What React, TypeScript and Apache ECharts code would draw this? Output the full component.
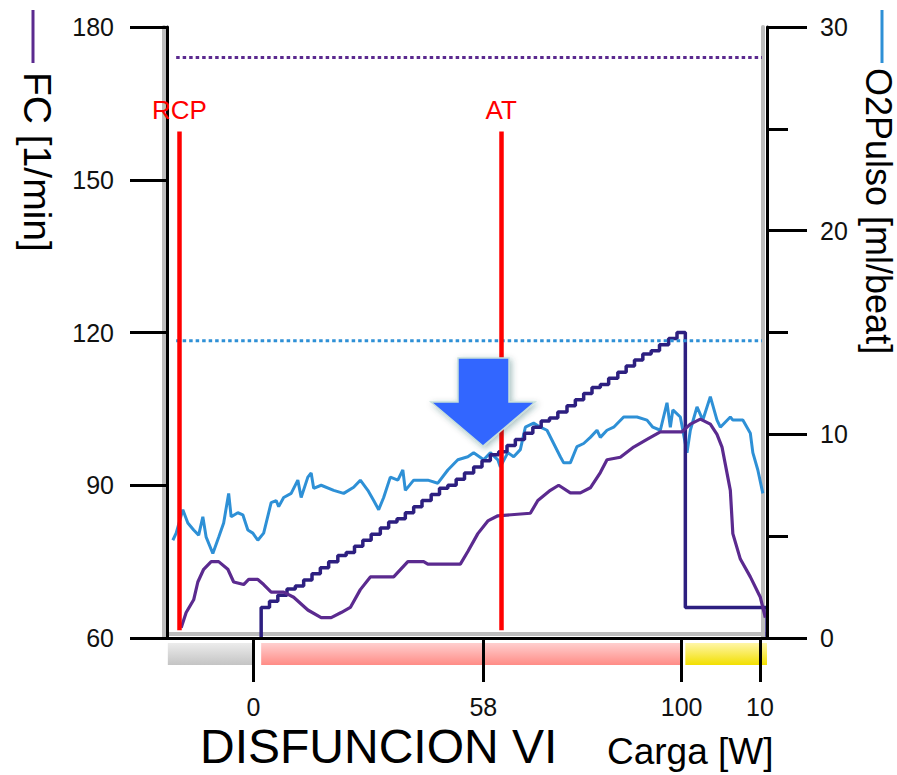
import React, { useEffect, useRef } from "react";
import * as echarts from "echarts";

const FONT = '"Liberation Sans", Arial, Helvetica, sans-serif';

// Heart rate (FC) trace: time [s] and beats per minute
const fcTime = [17, 23, 32, 37, 44, 53, 62, 73, 80, 92, 98, 109, 116, 125, 140, 152, 169, 185, 197, 209, 220, 232, 244, 272, 289, 308, 313, 352, 361, 373, 385, 397, 436, 445, 460, 470, 484, 496, 508, 520, 528, 544, 560, 576, 592, 618, 628, 640, 652, 660, 666, 676, 679, 688, 700, 712, 718];
const fcValues = [62, 65, 67.5, 71, 73.5, 75, 75, 73.5, 71, 70.5, 71.5, 71.5, 70.5, 69, 69, 68, 65.5, 64, 64, 65, 66, 69.5, 72, 72, 75, 75, 74.5, 74.5, 77, 80.5, 83, 84, 84.5, 87, 89, 90, 88.5, 88.5, 89.5, 92.5, 95, 95.5, 97.5, 99, 100.5, 100.5, 102, 103, 102, 100, 97.5, 89, 80.5, 75.5, 72, 68, 64];

// O2 pulse trace: time [s] and ml/beat
const o2Time = [7, 11, 19, 25, 32, 38, 43, 47, 55, 62, 68, 74, 77, 85, 91, 97, 103, 109, 116, 125, 131, 134, 140, 149, 157, 161, 169, 173, 176, 185, 200, 212, 224, 232, 241, 248, 254, 260, 268, 277, 283, 286, 296, 313, 325, 337, 349, 361, 368, 380, 388, 397, 400, 409, 416, 424, 430, 440, 448, 456, 464, 472, 476, 484, 492, 500, 508, 516, 520, 528, 536, 548, 564, 576, 583, 592, 600, 604, 607, 616, 619, 624, 628, 636, 643, 652, 660, 664, 676, 679, 691, 700, 703, 709, 715];
const o2Values = [4.8, 5.15, 6.3, 5.65, 5.3, 5.05, 5.95, 4.95, 4.15, 4.95, 5.65, 7.1, 5.95, 6.15, 6.05, 5.3, 5.15, 4.8, 5.15, 6.65, 6.75, 6.45, 6.9, 7.1, 7.75, 6.9, 7.9, 8.1, 7.35, 7.5, 7.25, 7.1, 7.4, 7.75, 7.25, 6.75, 6.3, 6.9, 7.9, 7.75, 8.25, 7.25, 7.75, 7.75, 7.6, 8.25, 8.75, 8.9, 9.1, 8.75, 9.1, 8.75, 8.4, 9.1, 8.9, 9.25, 10.35, 10.55, 10.35, 10.2, 9.55, 8.9, 8.6, 8.6, 9.4, 9.55, 9.85, 10.2, 9.85, 10.2, 10.35, 10.85, 10.85, 10.7, 10.35, 10.2, 11.55, 10.35, 11.2, 10.85, 10.2, 9.1, 10.2, 11.35, 10.7, 11.85, 10.7, 10.35, 10.85, 10.7, 10.7, 10.05, 9.1, 8.25, 7.1];

// Ergometer load (step protocol): time [s] and watts
const loadTime = [113, 113, 123, 133, 144, 154, 164, 174, 184, 194, 205, 215, 225, 235, 245, 256, 266, 276, 286, 296, 306, 317, 327, 337, 347, 357, 368, 378, 388, 398, 408, 418, 429, 439, 449, 459, 469, 480, 490, 500, 510, 520, 530, 541, 551, 561, 571, 581, 591, 602, 612, 622, 720, 720];
const loadWatts = [0, 10, 12, 14, 16, 17, 19, 21, 23, 25, 27, 28, 30, 32, 34, 36, 38, 39, 41, 43, 45, 47, 49, 50, 52, 54, 56, 58, 60, 61, 63, 65, 67, 69, 71, 72, 74, 76, 78, 80, 82, 83, 85, 87, 89, 91, 93, 94, 96, 98, 100, 10, 10, 0];

// Load marks along the time axis
const loadTickTime = [103.6, 379.6, 617.6, 711.6];
const loadTickLabels = ["0", "58", "100", "10"];

// Test phases (rest, exercise, recovery): start / end time [s]
const phaseStart = [1, 113, 622];
const phaseEnd = [102, 619, 720];

// Ventilatory thresholds
const thresholdNames = ["RCP", "AT"];
const thresholdTime = [15, 401];
const thresholdFcRange = [61.5, 159.5];

// Predicted references
const fcPredictedMax = 174;
const o2PulsePredicted = 14.6;
const referenceSpan = [11, 714];

const C_FC = "#5b2a8f";
const C_O2 = "#2e90d6";
const C_LOAD = "#2d1f80";
const C_RED = "#ff0000";
const C_EDGE = "#bdbdbd";

const phaseColors = [
  ["#ececec", "#c4c4c4"],
  ["#ffcfcf", "#ff8c86"],
  ["#fff6a8", "#f2df00"],
];

export default function App() {
  const ref = useRef<HTMLDivElement>(null);

  useEffect(() => {
    if (!ref.current) return;
    const chart = echarts.init(ref.current, null, { renderer: "svg" });

    const gradients = phaseColors.map(
      ([a, b]) =>
        new echarts.graphic.LinearGradient(0, 0, 0, 1, [
          { offset: 0, color: a },
          { offset: 1, color: b },
        ])
    );

    const axisText = { fontSize: 25, color: "#111", fontFamily: FONT };
    const blackTick = { color: "#000", width: 3 };
    const blackLine = { show: true, onZero: false, lineStyle: { color: "#000", width: 3 } };
    const edgeLine = { show: true, onZero: false, lineStyle: { color: C_EDGE, width: 4 } };
    const bare = {
      axisTick: { show: false },
      axisLabel: { show: false },
      splitLine: { show: false },
    };

    const option: any = {
      animation: false,
      backgroundColor: "#ffffff",
      textStyle: { fontFamily: FONT },
      grid: [
        { left: 167, right: 130, top: 27, height: 611 },
        { left: 167, right: 130, top: 643, height: 22 },
      ],
      xAxis: [
        {
          gridIndex: 0,
          type: "value",
          min: 0,
          max: 720,
          z: 10,
          splitLine: { show: false },
          axisLine: blackLine,
          axisTick: { show: true, customValues: loadTickTime, length: 44, lineStyle: blackTick },
          axisLabel: {
            show: true,
            customValues: loadTickTime,
            margin: 56,
            ...axisText,
            formatter: (v: number) => {
              const i = loadTickTime.findIndex((t) => Math.abs(t - v) < 1e-6);
              return i >= 0 ? loadTickLabels[i] : "";
            },
          },
        },
        { gridIndex: 1, type: "value", min: 0, max: 720, show: false },
        // soft grey edge along the inside of the bottom frame
        { gridIndex: 0, type: "value", min: 0, max: 720, position: "bottom", offset: -4, z: 1, axisLine: edgeLine, ...bare },
      ],
      yAxis: [
        {
          gridIndex: 0,
          type: "value",
          position: "left",
          min: 60,
          max: 180,
          interval: 30,
          z: 5,
          splitLine: { show: false },
          axisLine: blackLine,
          axisTick: { show: true, length: 37, lineStyle: blackTick },
          axisLabel: { margin: 53, ...axisText },
        },
        {
          gridIndex: 0,
          type: "value",
          position: "right",
          min: 0,
          max: 30,
          interval: 10,
          z: 5,
          splitLine: { show: false },
          minorSplitLine: { show: false },
          axisLine: blackLine,
          axisTick: { show: true, length: 40, lineStyle: blackTick },
          minorTick: { show: true, splitNumber: 2, length: 21, lineStyle: blackTick },
          axisLabel: { margin: 53, ...axisText },
        },
        { gridIndex: 0, type: "value", min: 0, max: 200, show: false },
        { gridIndex: 1, type: "value", min: 0, max: 1, show: false },
        // grey edges beside the two vertical frame lines
        { gridIndex: 0, type: "value", position: "left", offset: 3, z: 1, axisLine: edgeLine, ...bare },
        { gridIndex: 0, type: "value", position: "right", offset: -4, z: 1, axisLine: edgeLine, ...bare },
      ],
      series: [
        {
          name: "Fases",
          type: "custom",
          xAxisIndex: 1,
          yAxisIndex: 3,
          silent: true,
          encode: { x: [0, 1] },
          data: phaseStart.map((s, i) => [s, phaseEnd[i], i]),
          renderItem: (_p: any, api: any) => {
            const a = api.coord([api.value(0), 1]);
            const b = api.coord([api.value(1), 0]);
            return {
              type: "rect",
              shape: { x: a[0], y: a[1], width: b[0] - a[0], height: b[1] - a[1] },
              style: { fill: gradients[api.value(2)] },
            };
          },
        },
        {
          name: "O2Pulso",
          type: "line",
          xAxisIndex: 0,
          yAxisIndex: 1,
          symbol: "none",
          lineStyle: { color: C_O2, width: 3 },
          data: o2Time.map((t, i) => [t, o2Values[i]]),
        },
        {
          name: "Carga",
          type: "line",
          xAxisIndex: 0,
          yAxisIndex: 2,
          symbol: "none",
          step: "end",
          lineStyle: { color: C_LOAD, width: 3.5 },
          data: loadTime.map((t, i) => [t, loadWatts[i]]),
        },
        {
          name: "FC",
          type: "line",
          xAxisIndex: 0,
          yAxisIndex: 0,
          symbol: "none",
          lineStyle: { color: C_FC, width: 3.2 },
          data: fcTime.map((t, i) => [t, fcValues[i]]),
        },
        {
          name: "FC max pred",
          type: "line",
          xAxisIndex: 0,
          yAxisIndex: 0,
          symbol: "none",
          lineStyle: { color: C_FC, width: 3, type: [3.5, 3] },
          data: referenceSpan.map((t) => [t, fcPredictedMax]),
        },
        {
          name: "O2Pulso pred",
          type: "line",
          xAxisIndex: 0,
          yAxisIndex: 1,
          symbol: "none",
          lineStyle: { color: C_O2, width: 3, type: [3.5, 3] },
          data: referenceSpan.map((t) => [t, o2PulsePredicted]),
        },
        {
          name: "Umbrales",
          type: "line",
          xAxisIndex: 0,
          yAxisIndex: 0,
          data: [],
          markLine: {
            silent: true,
            symbol: "none",
            lineStyle: { color: C_RED, width: 4.5, type: "solid" },
            label: {
              show: true,
              position: "end",
              distance: 8,
              formatter: "{b}",
              color: C_RED,
              fontSize: 26,
              fontFamily: FONT,
            },
            data: thresholdTime.map((t, i) => [
              { coord: [t, thresholdFcRange[0]], name: thresholdNames[i] },
              { coord: [t, thresholdFcRange[1]] },
            ]),
          },
        },
      ],
      graphic: [
        // series key swatches next to the axis titles
        { type: "line", shape: { x1: 33, y1: 10, x2: 33, y2: 63 }, style: { stroke: C_FC, lineWidth: 3 } },
        { type: "line", shape: { x1: 882, y1: 10, x2: 882, y2: 63 }, style: { stroke: C_O2, lineWidth: 3 } },
        {
          type: "text",
          x: 37,
          y: 72,
          rotation: -Math.PI / 2,
          style: {
            text: "FC [1/min]",
            fontSize: 39,
            fontFamily: FONT,
            fill: "#000",
            align: "left",
            verticalAlign: "middle",
            textAlign: "left",
            textVerticalAlign: "middle",
          },
        },
        {
          type: "text",
          x: 878,
          y: 68,
          rotation: -Math.PI / 2,
          style: {
            text: "O2Pulso [ml/beat]",
            fontSize: 36,
            fontFamily: FONT,
            fill: "#000",
            align: "left",
            verticalAlign: "middle",
            textAlign: "left",
            textVerticalAlign: "middle",
          },
        },
        {
          type: "text",
          x: 200,
          y: 746,
          style: {
            text: "DISFUNCION VI",
            fontSize: 48,
            fontFamily: FONT,
            fill: "#000",
            align: "left",
            verticalAlign: "middle",
            textAlign: "left",
            textVerticalAlign: "middle",
          },
        },
        {
          type: "text",
          x: 607,
          y: 751,
          style: {
            text: "Carga [W]",
            fontSize: 37,
            fontFamily: FONT,
            fill: "#000",
            align: "left",
            verticalAlign: "middle",
            textAlign: "left",
            textVerticalAlign: "middle",
          },
        },
        // highlight arrow pointing at the AT crossing
        {
          type: "polygon",
          z: 100,
          shape: {
            points: [
              [458, 358],
              [509, 358],
              [509, 402],
              [535, 402],
              [483, 446],
              [431, 402],
              [458, 402],
            ],
          },
          style: {
            fill: "#3366ff",
            stroke: "#c6e0dc",
            lineWidth: 1.5,
            shadowBlur: 6,
            shadowColor: "rgba(0,70,70,0.35)",
            shadowOffsetX: 2,
            shadowOffsetY: 2,
          },
        },
      ],
    };

    chart.setOption(option);
    return () => chart.dispose();
  }, []);

  return (
    <div
      ref={ref}
      style={{ position: "fixed", left: 0, top: 0, width: 897, height: 775, background: "#fff" }}
    />
  );
}
